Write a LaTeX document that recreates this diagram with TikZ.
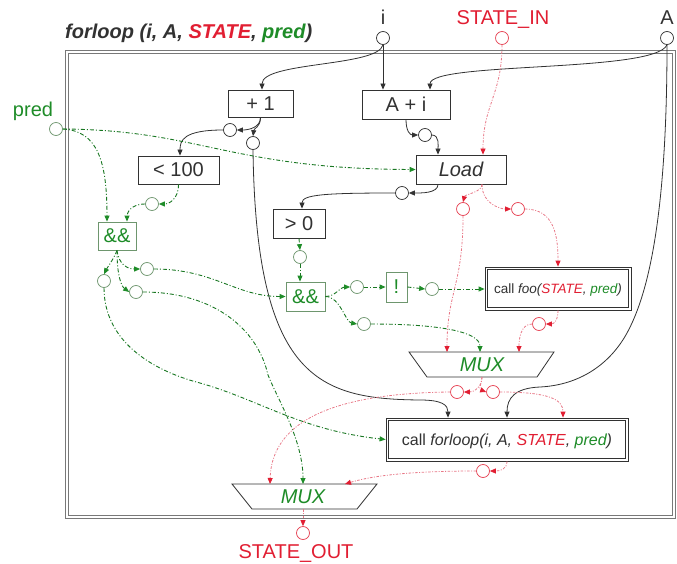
\documentclass[tikz,border=0pt]{standalone}
\usepackage{fontspec}
\setmainfont{Liberation Sans}
\usetikzlibrary{arrows.meta}
\definecolor{grn}{RGB}{30,140,40}
\definecolor{rd}{RGB}{225,30,50}
\definecolor{rdl}{RGB}{232,120,135}
\definecolor{ink}{RGB}{50,50,50}
\definecolor{frm}{RGB}{120,120,120}
\definecolor{gbox}{RGB}{110,150,110}
\tikzset{
  blk/.style={draw=ink, line width=0.8pt, -{Triangle[length=6pt,width=5pt,color=ink]}},
  gl/.style={draw=grn!85!black, line width=0.9pt, dash pattern=on 4pt off 2pt on 1pt off 2pt, -{Triangle[length=6pt,width=5pt,color=grn]}},
  rl/.style={draw=rdl, line width=0.8pt, dash pattern=on 2.5pt off 1.5pt on 1pt off 1.5pt, -{Triangle[length=6pt,width=5pt,color=rd]}},
  opbox/.style={draw=ink, line width=0.8pt, inner sep=0pt, fill=white, font=\fontsize{20}{24}\selectfont, text=ink},
  gbx/.style={draw=gbox, line width=0.8pt, inner sep=0pt, fill=white, font=\fontsize{20}{24}\selectfont, text=grn},
  callbox/.style={draw=ink, line width=0.8pt, inner sep=0pt, fill=white, text=ink, text depth=0pt},
  innerline/.style={draw=ink, line width=0.8pt},
  framel/.style={draw=frm, line width=1pt},
  pt/.style={circle, draw=ink, line width=0.7pt, minimum size=13pt, inner sep=0pt, fill=white},
  ptg/.style={pt, draw=gbox},
  ptr/.style={pt, draw=rd!85},
  lbl/.style={font=\fontsize{20}{24}\selectfont, inner sep=0pt},
  muxshape/.style={draw=ink, line width=0.8pt, fill=white},
}
\begin{document}
\begin{tikzpicture}[x=1pt,y=-1pt]
\useasboundingbox (0,0) rectangle (677,564);
% frame
\draw[framel] (65.5,50.5) rectangle (675.5,518.5);
\draw[framel] (68.5,53.5) rectangle (672.5,515.5);
% title
\node[inner sep=0pt, anchor=base west, text=ink, font=\fontsize{20}{24}\selectfont\bfseries\itshape] (title) at (65,38.5) {forloop (i, A, \textcolor{rd}{STATE}, \textcolor{grn}{pred})};
% ports
\node[pt] (pi) at (383,38) {};
\node[lbl, anchor=base, text=ink] (li) at (383,25) {i};
\node[pt] (pA) at (667,38) {};
\node[lbl, anchor=base, text=ink] (lA) at (667,25) {A};
\node[ptr] (ps) at (502,38) {};
\node[lbl, anchor=base, text=rd] (ls) at (503,25) {STATE\_IN};
\node[ptg] (pp) at (56,129) {};
\node[lbl, anchor=base, text=grn] (lp) at (33,116.5) {pred};
\node[ptr] (pso) at (303,533) {};
\node[lbl, anchor=base, text=rd] (lso) at (296,558) {STATE\_OUT};
% boxes
\node[opbox, minimum width=65pt, minimum height=27pt] (plus) at (260.5,103.5) {+ 1};
\node[opbox, minimum width=88pt, minimum height=29pt] (apli) at (406,104.5) {A + i};
\node[opbox, minimum width=81pt, minimum height=28pt] (lt) at (178.5,170) {< 100};
\node[opbox, minimum width=90pt, minimum height=29pt] (load) at (461,169.5) {\itshape Load};
\node[opbox, minimum width=52pt, minimum height=29pt] (gt) at (299,223.5) {> 0};
\node[gbx, minimum width=38pt, minimum height=28pt] (and1) at (117,236) {\&\&};
\node[gbx, minimum width=39pt, minimum height=29pt] (and2) at (305.5,296.5) {\&\&};
\node[gbx, minimum width=21pt, minimum height=30pt] (notb) at (396.5,287) {!};
\node[callbox, minimum width=146pt, minimum height=43pt, font=\fontsize{13.5}{16}\selectfont] (foo) at (558,288.5) {call \textit{foo(\textcolor{rd}{STATE}, \textcolor{grn}{pred})}};
\draw[innerline] ([shift={(3pt,-3pt)}]foo.north west) rectangle ([shift={(-3pt,3pt)}]foo.south east);
\node[callbox, minimum width=242pt, minimum height=43pt, font=\fontsize{16}{19}\selectfont] (cfl) at (507,439.5) {call \textit{forloop(i, A, \textcolor{rd}{STATE}, \textcolor{grn}{pred})}};
\draw[innerline] ([shift={(3pt,-3pt)}]cfl.north west) rectangle ([shift={(-3pt,3pt)}]cfl.south east);
% MUX shapes
\draw[muxshape] (409,352) -- (554,352) -- (537,377) -- (427,377) -- cycle;
\node[inner sep=0pt, text=grn, font=\fontsize{20}{24}\selectfont\itshape] (mux1) at (482,365) {MUX};
\coordinate (m1a) at (447,352);
\coordinate (m1b) at (480,352);
\coordinate (m1c) at (519,352);
\coordinate (m1o) at (482,377);
\draw[muxshape] (232,484) -- (377,484) -- (357,509) -- (252,509) -- cycle;
\node[inner sep=0pt, text=grn, font=\fontsize{20}{24}\selectfont\itshape] (mux2) at (303,497) {MUX};
\coordinate (m2a) at (270,484);
\coordinate (m2b) at (303,484);
\coordinate (m2c) at (345,484);
\coordinate (m2o) at (303,509);
% small circles
\node[pt] (c1) at (230,130) {};
\node[pt] (c2) at (253,143) {};
\node[pt] (c3) at (425,135) {};
\node[pt] (c4) at (402,193) {};
\node[ptg] (c5) at (152,204) {};
\node[ptg] (c6) at (147,269) {};
\node[ptg] (c7) at (136,292) {};
\node[ptg] (c8) at (104,281) {};
\node[ptg] (c9) at (300,257) {};
\node[ptg] (c10) at (357,287) {};
\node[ptg] (c11) at (364,324) {};
\node[ptg] (c12) at (432,289) {};
\node[ptr] (c13) at (463,209) {};
\node[ptr] (c14) at (518,209) {};
\node[ptr] (c15) at (539,324) {};
\node[ptr] (c16) at (457,392) {};
\node[ptr] (c17) at (493,392) {};
\node[ptr] (c18) at (483,471) {};
% black connectors
\draw[blk] (pi.south) .. controls +(-5,22) and +(0,-28) .. ([xshift=1.5pt]plus.north);
\draw[blk] (pi.south) -- (pi.south |- apli.north);
\draw[blk] (pA.south) .. controls +(-12,28) and +(0,-28) .. ([xshift=24pt]apli.north);
\draw[blk] (pA.south) .. controls (667,230) and (645,300) .. (627,333) .. controls (610,364) and (580,385) .. (540,387) .. controls (515,388) and (507,398) .. (cfl.north);
\draw[blk] (plus.south) .. controls +(0,10) and +(12,0) .. (c1.east);
\draw[blk] (plus.south) .. controls +(0,10) and +(1,-8) .. (c2.north);
\draw[blk] (c1.west) .. controls +(-40,0) and +(0,-15) .. ([xshift=1.5pt]lt.north);
\draw[blk] (c2.south) .. controls (256,380) and (320,399) .. (420,400) .. controls (442,400) and (448,405) .. ([xshift=-59pt]cfl.north);
\draw[blk] (apli.south) .. controls +(0,12) and +(-8,0) .. (c3.west);
\draw[blk] (c3.east) .. controls +(8,0) and +(0,-8) .. ([xshift=-23pt]load.north);
\draw[blk] ([xshift=-23pt]load.south) .. controls +(0,9) and +(12,0) .. (c4.east);
\draw[blk] (c4.west) .. controls +(-70,0) and +(0,-14) .. ([xshift=3pt]gt.north);
% green connectors
\draw[gl] (pp.east) .. controls +(35,2) and +(0,-60) .. ([xshift=-10pt]and1.north);
\draw[gl] (pp.east) .. controls (200,130) and (230,169) .. (load.west);
\draw[gl] (lt.south) .. controls +(0,15) and +(10,0) .. (c5.east);
\draw[gl] (c5.west) .. controls +(-15,0) and +(0,-8) .. ([xshift=10pt]and1.north);
\draw[gl] (and1.south) .. controls +(2,15) and +(-12,0) .. (c6.west);
\draw[gl] (and1.south) .. controls +(0,25) and +(-8,-6) .. (c7.west);
\draw[gl] (and1.south) .. controls +(-3,8) and +(3,-6) .. (c8.north);
\draw[gl] (c6.east) .. controls +(60,0) and +(-50,0) .. (and2.west);
\draw[gl] (c7.east) .. controls (215,292) and (258,330) .. (268,375) .. controls (278,400) and (303,440) .. (m2b);
\draw[gl] (c8.south) .. controls (104,340) and (150,370) .. (200,383) .. controls (260,400) and (300,430) .. (cfl.west);
\draw[gl] (gt.south) -- (c9.north);
\draw[gl] (c9.south) -- (c9.south |- and2.north);
\draw[gl] (and2.east) .. controls +(10,0) and +(-10,0) .. (c10.west);
\draw[gl] (and2.east) .. controls +(15,0) and +(-12,-2) .. (c11.west);
\draw[gl] (c10.east) -- (notb.west);
\draw[gl] (notb.east) -- (c12.west);
\draw[gl] (c12.east) -- (c12.east -| foo.west);
\draw[gl] (c11.east) .. controls +(70,0) and +(0,-20) .. (m1b);
% red connectors
\draw[rl] (ps.south) .. controls +(0,50) and +(0,-50) .. ([xshift=22pt]load.north);
\draw[rl] ([xshift=21pt]load.south) .. controls +(0,8) and +(2,-8) .. (c13.north);
\draw[rl] ([xshift=21pt]load.south) .. controls +(0,20) and +(-10,0) .. (c14.west);
\draw[rl] (c14.east) .. controls +(30,0) and +(0,-30) .. (foo.north);
\draw[rl] (c13.south) .. controls +(0,70) and +(0,-60) .. (m1a);
\draw[rl] (foo.south) .. controls +(0,10) and +(8,0) .. (c15.east);
\draw[rl] (c15.west) .. controls +(-12,0) and +(0,-12) .. (m1c);
\draw[rl] (m1o) .. controls +(0,10) and +(10,0) .. (c16.east);
\draw[rl] (m1o) .. controls +(0,6) and +(-8,-3) .. (c17.west);
\draw[rl] (c16.west) .. controls (360,393) and (272,410) .. (m2a);
\draw[rl] (c17.east) .. controls +(50,0) and +(0,-18) .. ([xshift=56pt]cfl.north);
\draw[rl] (cfl.south) .. controls +(0,8) and +(10,0) .. (c18.east);
\draw[rl] (c18.west) .. controls +(-80,0) and +(20,-6) .. (m2c);
\draw[rl] (m2o) -- (pso.north);
\end{tikzpicture}
\end{document}
